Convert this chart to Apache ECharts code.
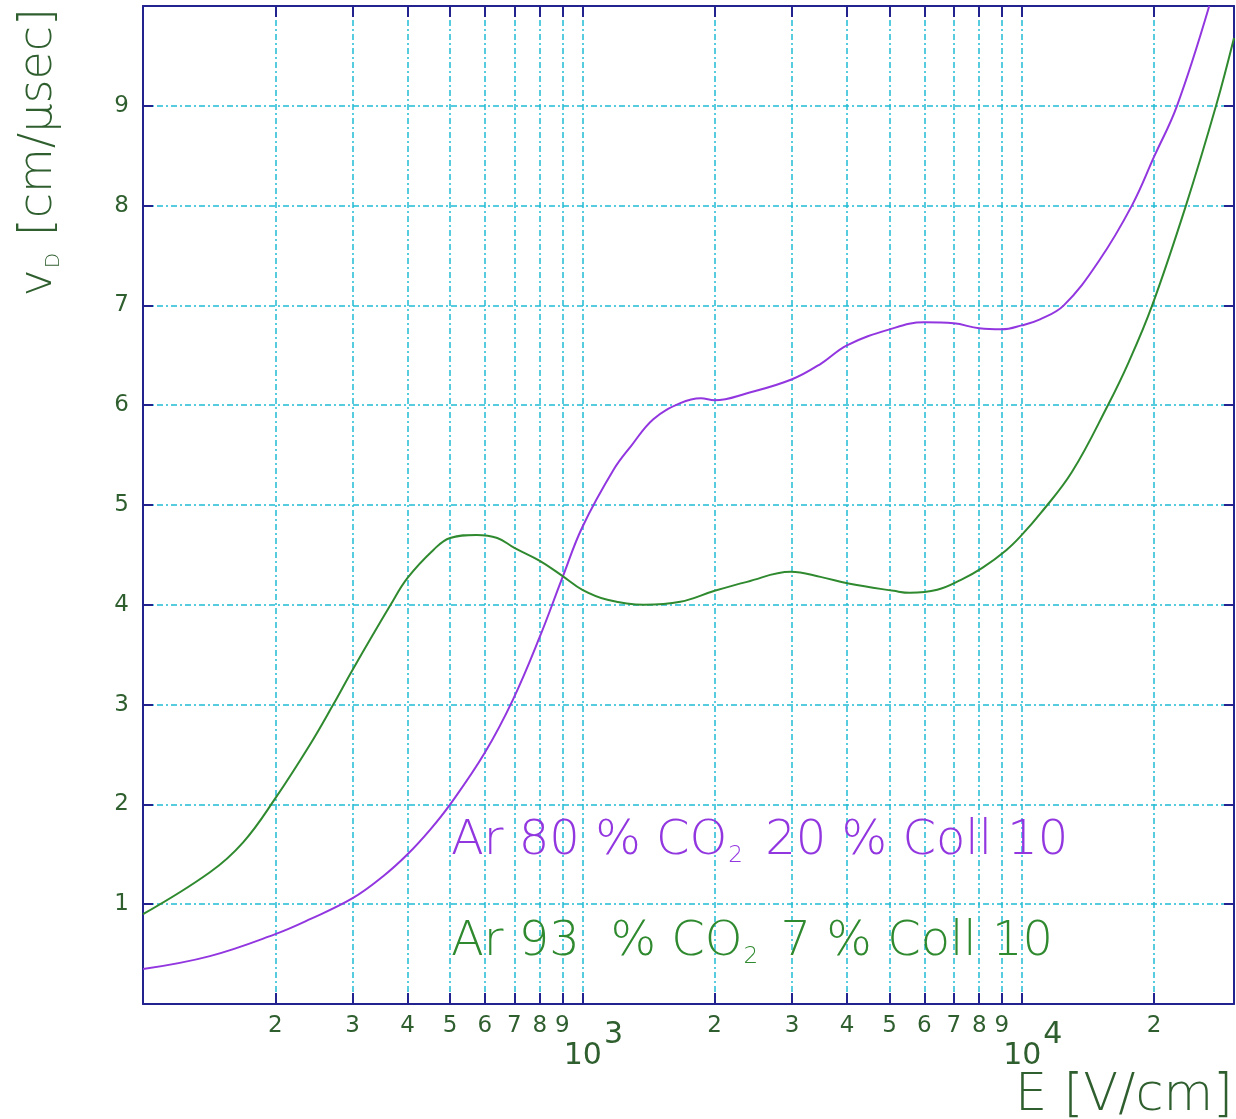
<!DOCTYPE html>
<html><head><meta charset="utf-8">
<script src="https://cdn.jsdelivr.net/npm/echarts@6/dist/echarts.min.js"></script>
<style>html,body{margin:0;padding:0;background:#fff}#c{width:1236px;height:1119px}</style>
</head><body><div id="c"></div>
<script>
// Ar 80 % CO2 20 %  (E in V/cm, vD in cm/us)
const purpleE = [100,142,200,240,300,352,400,451,500,600,695,800,900,1000,1180,1290,1450,1670,1860,2000,2370,3000,3500,4000,5000,6000,7000,8000,9000,10000,11000,12460,15000,17800,20000,22550,26700];
const purpleV = [0.35,0.48,0.70,0.85,1.06,1.28,1.50,1.75,2.00,2.52,3.05,3.68,4.27,4.78,5.36,5.59,5.86,6.02,6.07,6.05,6.12,6.26,6.42,6.60,6.76,6.83,6.82,6.77,6.76,6.80,6.86,7.00,7.45,8.00,8.49,9.00,10.00];
// Ar 93 % CO2 7 %
const greenE = [100,142,169,200,240,271,300,366,400,458,500,574,640,700,800,900,1000,1140,1380,1670,2000,2370,2980,3480,4060,5110,5560,6420,7270,8130,9230,10000,11050,13000,15700,17500,19800,23630,27670,30400];
const greenV = [0.90,1.32,1.62,2.06,2.60,3.00,3.35,4.00,4.27,4.55,4.67,4.70,4.67,4.57,4.44,4.29,4.15,4.05,4.00,4.03,4.14,4.23,4.33,4.28,4.21,4.14,4.12,4.15,4.25,4.37,4.55,4.70,4.92,5.33,6.00,6.43,7.00,8.00,9.00,9.68];

const xTicks = [200,300,400,500,600,700,800,900,1000,2000,3000,4000,5000,6000,7000,8000,9000,10000,20000];
const xDigitLabels = [200,300,400,500,600,700,800,900,2000,3000,4000,5000,6000,7000,8000,9000,20000];
const xDecadeLabels = [1000,10000];
const yTicks = [1,2,3,4,5,6,7,8,9];
const xRange = [100,30400];
const yRange = [0,10];

const purpleLabel = '{t|Ar 80 % CO}{s|2}{t| 20 % Coll 10}';
const greenLabel = '{t|Ar 93  % CO}{s|2}{t| 7 % Coll 10}';
const xTitle = 'E [V/cm]';
const yTitle = '{t|v}{s|D}{t| [cm/μsec]}';

const FONT = "'DejaVu Sans', 'Noto Sans', sans-serif";
const AXIS = '#23238f';
const GRID = '#22bcd5';
const TXT = '#2f5f2f';
const PURPLE = '#9236e0';
const GREEN = '#2f8a2f';
const dash = [6,3,2,3];

const chart = echarts.init(document.getElementById('c'), null, {renderer:'canvas'});

function xAxisBase(extra){
  return Object.assign({
    type:'log', logBase:10, min:xRange[0], max:xRange[1], gridIndex:0
  }, extra);
}
function legendRich(color){
  return {
    t:{fontFamily:FONT, fontSize:48, lineHeight:48, fill:color, verticalAlign:'top', fontWeight:200},
    s:{fontFamily:FONT, fontSize:23, lineHeight:50, fill:color, verticalAlign:'top', fontWeight:200, padding:[27,7,0,1]}
  };
}

const option = {
  backgroundColor:'#ffffff',
  animation:false,
  grid:{left:143, right:2, top:6, bottom:115, containLabel:false},
  xAxis:[
    xAxisBase({
      position:'bottom',
      axisLine:{show:true, lineStyle:{color:AXIS, width:2}},
      axisTick:{show:true, inside:true, length:11, customValues:xTicks, lineStyle:{color:AXIS, width:2}},
      axisLabel:{show:true, customValues:xDigitLabels, margin:11, color:TXT, fontFamily:FONT, fontSize:23,
        formatter:function(v){ const p=Math.pow(10,Math.floor(Math.log10(v)+1e-9)); return String(Math.round(v/p)); }},
      splitLine:{show:true, lineStyle:{color:GRID, width:1.5, type:dash}},
      minorTick:{show:false}, minorSplitLine:{show:false}
    }),
    xAxisBase({
      position:'bottom',
      axisLine:{show:false}, axisTick:{show:false}, splitLine:{show:false},
      axisLabel:{show:true, customValues:xDecadeLabels, margin:16, padding:[0,0,0,22], color:TXT, fontFamily:FONT,
        formatter:function(v){ return '{b|10}{s|' + Math.round(Math.log10(v)) + '}'; },
        rich:{
          b:{fontFamily:FONT, fontSize:30, lineHeight:30, color:TXT, verticalAlign:'bottom'},
          s:{fontFamily:FONT, fontSize:30, lineHeight:51, color:TXT, verticalAlign:'top', padding:[0,0,21,2]}
        }}
    }),
    xAxisBase({
      position:'top',
      axisLine:{show:true, lineStyle:{color:AXIS, width:2}},
      axisTick:{show:true, inside:true, length:11, customValues:xTicks, lineStyle:{color:AXIS, width:2}},
      axisLabel:{show:false}, splitLine:{show:false}
    })
  ],
  yAxis:[
    {type:'value', position:'left', min:yRange[0], max:yRange[1], interval:1,
      axisLine:{show:true, lineStyle:{color:AXIS, width:2}},
      axisTick:{show:true, inside:true, length:10, customValues:yTicks, lineStyle:{color:AXIS, width:2}},
      axisLabel:{show:true, customValues:yTicks, margin:14, color:TXT, fontFamily:FONT, fontSize:23},
      splitLine:{show:true, lineStyle:{color:GRID, width:1.5, type:dash}}},
    {type:'value', position:'right', min:yRange[0], max:yRange[1], interval:1,
      axisLine:{show:true, lineStyle:{color:AXIS, width:2}},
      axisTick:{show:true, inside:true, length:10, customValues:yTicks, lineStyle:{color:AXIS, width:2}},
      axisLabel:{show:false}, splitLine:{show:false}}
  ],
  series:[
    {type:'line', name:'Ar 80 % CO2 20 %', xAxisIndex:0, yAxisIndex:0, showSymbol:false, smooth:0.4,
      lineStyle:{color:PURPLE, width:2}, data:purpleE.map((e,i)=>[e,purpleV[i]]), z:3},
    {type:'line', name:'Ar 93 % CO2 7 %', xAxisIndex:0, yAxisIndex:0, showSymbol:false, smooth:0.4,
      lineStyle:{color:GREEN, width:2}, data:greenE.map((e,i)=>[e,greenV[i]]), z:3}
  ],
  graphic:[
    {type:'text', left:451, top:818, z:10, style:{text:purpleLabel, fill:PURPLE, rich:legendRich(PURPLE)}},
    {type:'text', left:451, top:919, z:10, style:{text:greenLabel, fill:GREEN, rich:legendRich(GREEN)}},
    {type:'text', x:1233, y:1097, z:10, style:{text:xTitle, fill:TXT, font:"200 51px 'DejaVu Sans'", align:'right', verticalAlign:'middle'}},
    {type:'text', x:40, y:8, rotation:Math.PI/2, z:10, style:{text:yTitle, fill:TXT, align:'right', verticalAlign:'middle',
      rich:{t:{fontFamily:FONT, fontSize:46, lineHeight:46, fill:TXT, verticalAlign:'top', fontWeight:200},
            s:{fontFamily:FONT, fontSize:20, lineHeight:48, fill:TXT, verticalAlign:'top', padding:[28,2,0,1], fontWeight:200}}}}
  ]
};
chart.setOption(option);
</script>
</body></html>
